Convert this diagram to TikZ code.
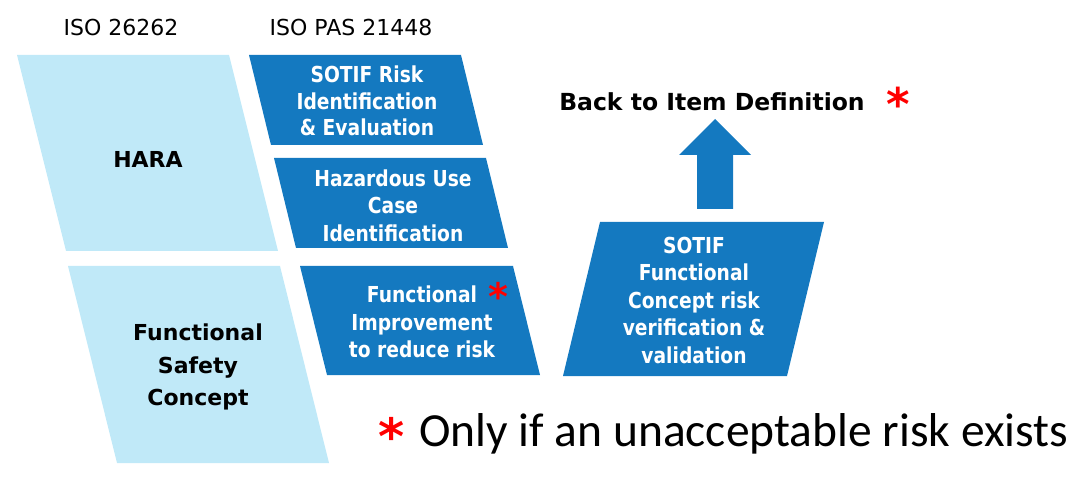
\documentclass[tikz,border=0pt]{standalone}
\usepackage{fontspec}
\setmainfont{DejaVu Sans}
\newfontfamily\condfont{DejaVu Sans}[FakeStretch=0.85]
\newfontfamily\calfont{Carlito}
\usetikzlibrary{calc}
\definecolor{lblue}{RGB}{192,233,248}
\definecolor{dblue}{RGB}{20,121,192}
\definecolor{ared}{RGB}{255,0,0}
\newcommand{\redstar}[1]{\textcolor{ared}{\fontspec{DejaVu Sans}\bfseries\fontsize{#1}{#1}\selectfont *}}
\begin{document}
\begin{tikzpicture}[x=1pt,y=-1pt,
  light/.style={fill=lblue},
  dark/.style={fill=dblue},
  hdr/.style={font=\fontsize{22}{26}\selectfont, inner sep=0},
  blk/.style={font=\bfseries\fontsize{22}{32.5}\selectfont, align=center, inner sep=0, text=black},
  wht/.style={font=\condfont\bfseries\fontsize{22}{27.5}\selectfont, align=center, inner sep=0, text=white},
  star/.style={inner sep=0, anchor=base}]
\useasboundingbox (0,0) rectangle (1080,489);
% shapes
\fill[light] (17,55) -- (229,55) -- (278,251) -- (66,251) -- cycle;
\fill[light] (68,266) -- (280,266) -- (329,463) -- (117,463) -- cycle;
\fill[dark] (249,55) -- (461,55) -- (483,145) -- (271,145) -- cycle;
\fill[dark] (274,158) -- (486,158) -- (508,248) -- (296,248) -- cycle;
\fill[dark] (300,266) -- (513,266) -- (540,375) -- (327,375) -- cycle;
\fill[dark] (600,222) -- (824,222) -- (787,376) -- (563,376) -- cycle;
% headers
\node[hdr] (iso1) at (121,27) {ISO 26262};
\node[hdr] (iso2) at (351,27) {ISO PAS 21448};
% left column
\node[blk] (hara) at (148,159) {HARA};
\node[blk] (fsc) at (198,367) {Functional\\Safety\\Concept};
% right column
\node[wht, font=\condfont\bfseries\fontsize{22}{26.5}\selectfont] (risk) at (367,101) {SOTIF Risk\\Identification\\\& Evaluation};
\node[wht] (haz) at (393,205.5) {Hazardous Use\\Case\\Identification};
\node[wht] (imp) at (422,322) {Functional\rlap{\hspace{11pt}\smash{\raisebox{-8pt}{\redstar{38}}}}\\Improvement\\to reduce risk};
\node[wht] (fc) at (694,300) {SOTIF\\Functional\\Concept risk\\verification \&\\validation};
% back
\node[font=\bfseries\fontsize{23.5}{28}\selectfont, inner sep=0] (back) at (712,102) {Back to Item Definition};
\node[star] (s1) at (898,121) {\redstar{45}};
\coordinate (abot) at (715,209);
\coordinate (atip) at (715,119);
\fill[dark] ($(abot)+(-18,0)$) -- ($(abot)+(18,0)$) -- ($(atip)+(18,36)$) -- ($(atip)+(36,36)$) -- (atip) -- ($(atip)+(-36,36)$) -- ($(atip)+(-18,36)$) -- cycle;
% note
\node[star] (s3) at (392,454) {\redstar{50}};
\node[anchor=base west, inner sep=0, font=\calfont\fontsize{47.5}{50}\selectfont] (note) at (419,446) {Only if an unacceptable risk exists};
\end{tikzpicture}
\end{document}
